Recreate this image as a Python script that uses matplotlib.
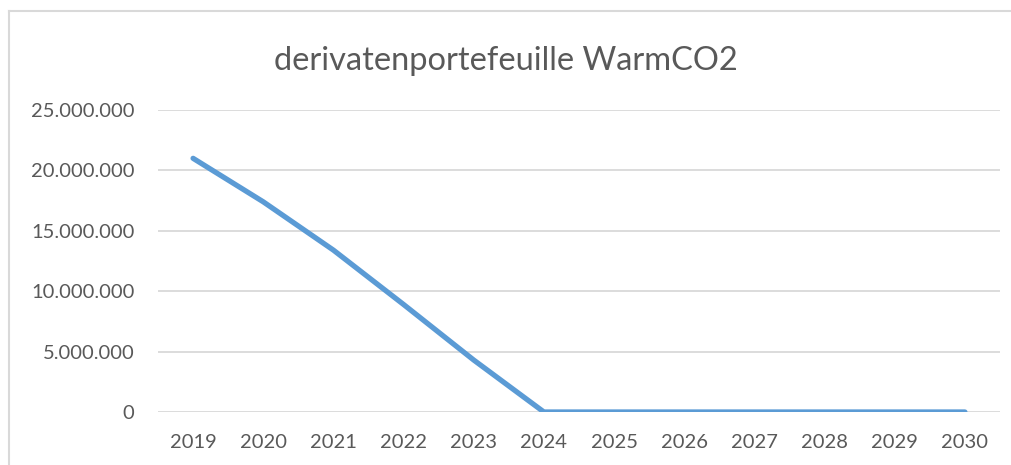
import matplotlib.pyplot as plt
from matplotlib.lines import Line2D

years = ['2019', '2020', '2021', '2022', '2023', '2024',
         '2025', '2026', '2027', '2028', '2029', '2030']
values = [21000000, 17400000, 13400000, 8900000, 4300000, 0,
          0, 0, 0, 0, 0, 0]
yticks = [0, 5000000, 10000000, 15000000, 20000000, 25000000]

plt.rcParams['font.family'] = ['Lato', 'DejaVu Sans']

fig = plt.figure(figsize=(10.11, 4.65), dpi=100)
ax = fig.add_axes([158/1011, 1-412/465, (1000-158)/1011, (412-110)/465])

x = list(range(len(years)))
ax.plot(x, values, color='#5B9BD5', linewidth=3.8, solid_capstyle='round',
        solid_joinstyle='round', zorder=3)

ax.set_xlim(-0.5, len(years)-0.5)
ax.set_ylim(0, 25000000)
ax.set_xticks(x)
ax.set_xticklabels(years)
ax.set_yticks(yticks)
ax.set_yticklabels([f'{v:,}'.replace(',', '.') for v in yticks])
ax.tick_params(axis='both', length=0, labelsize=14.5, colors='#595959')
ax.tick_params(axis='y', pad=17)
ax.tick_params(axis='x', pad=16)
ax.grid(axis='y', color='#D9D9D9', linewidth=1.3, zorder=0)
for s in ax.spines.values():
    s.set_visible(False)
ax.set_clip_on(False)

fig.text(0.5, 1-61/465, 'derivatenportefeuille WarmCO2', ha='center', va='center',
         fontsize=23.5, color='#595959')

# chart border (left and top visible)
fig.add_artist(Line2D([9/1011, 9/1011], [0, 1-11.5/465], color='#D9D9D9', linewidth=1.5))
fig.add_artist(Line2D([9/1011, 1], [1-11.5/465, 1-11.5/465], color='#D9D9D9', linewidth=1.5))

fig.savefig('out.png', dpi=100)
